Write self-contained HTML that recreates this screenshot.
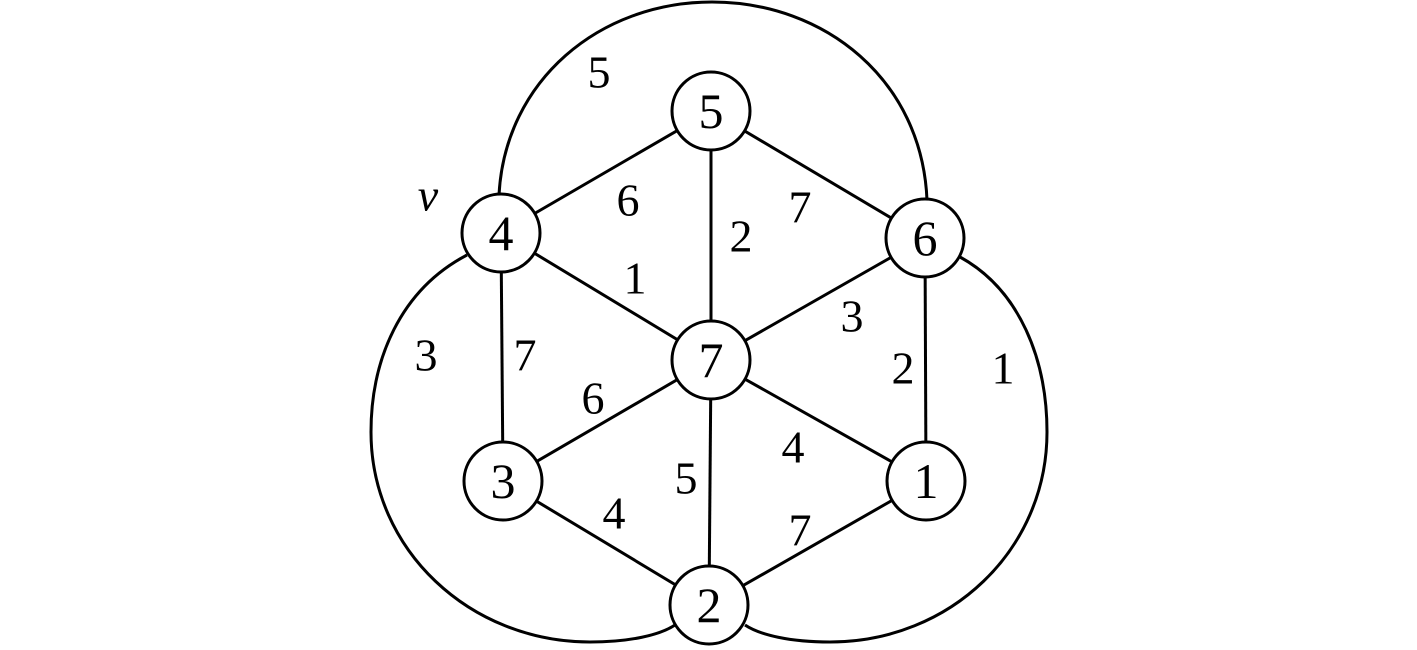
<!DOCTYPE html>
<html><head><meta charset="utf-8"><style>
html,body{margin:0;padding:0;background:#fff;}
svg{display:block;}
text{font-family:"Liberation Serif",serif;fill:#000;text-anchor:middle;dominant-baseline:central;}
</style></head><body>
<svg width="1417" height="650" viewBox="0 0 1417 650" xmlns="http://www.w3.org/2000/svg">
<g stroke="#000" stroke-width="3" fill="none">
<!-- straight edges -->
<line x1="711" y1="111" x2="501" y2="233"/>
<line x1="711" y1="111" x2="925" y2="238"/>
<line x1="711" y1="111" x2="711" y2="360"/>
<line x1="501" y1="233" x2="711" y2="360"/>
<line x1="925" y1="238" x2="711" y2="360"/>
<line x1="501" y1="233" x2="503" y2="481"/>
<line x1="925" y1="238" x2="926" y2="481"/>
<line x1="503" y1="481" x2="711" y2="360"/>
<line x1="926" y1="481" x2="711" y2="360"/>
<line x1="711" y1="360" x2="709" y2="605"/>
<line x1="503" y1="481" x2="709" y2="605"/>
<line x1="926" y1="481" x2="709" y2="605"/>
<!-- curves -->
<path d="M499,195 C505,80 600,2 712,2 C825,2 922,80 927,200"/>
<path d="M467,255 C400,290 371,360 371,432 C371,550 470,642 590,642 C630,642 660,635 675,625"/>
<path d="M960,257 C1020,290 1047,360 1047,432 C1047,550 950,642 830,642 C790,642 760,635 745,625"/>
</g>
<g stroke="#000" stroke-width="3" fill="#fff">
<circle cx="711" cy="111" r="39"/>
<circle cx="501" cy="233" r="39"/>
<circle cx="925" cy="238" r="39"/>
<circle cx="711" cy="360" r="39"/>
<circle cx="503" cy="481" r="39"/>
<circle cx="926" cy="481" r="39"/>
<circle cx="709" cy="605" r="39"/>
</g>
<g font-size="50">
<text x="711" y="111">5</text>
<text x="501" y="233">4</text>
<text x="925" y="238">6</text>
<text x="711" y="360">7</text>
<text x="503" y="481">3</text>
<text x="926" y="481">1</text>
<text x="709" y="605">2</text>
</g>
<g font-size="46">
<text x="599" y="72">5</text>
<text x="428" y="195" font-style="italic">v</text>
<text x="628" y="200">6</text>
<text x="635" y="278">1</text>
<text x="741" y="236">2</text>
<text x="800" y="207">7</text>
<text x="852" y="316">3</text>
<text x="903" y="368">2</text>
<text x="1003" y="368">1</text>
<text x="426" y="355">3</text>
<text x="525" y="355">7</text>
<text x="593" y="398">6</text>
<text x="793" y="447">4</text>
<text x="686" y="478">5</text>
<text x="614" y="513">4</text>
<text x="800" y="530">7</text>
</g>
</svg>
</body></html>
